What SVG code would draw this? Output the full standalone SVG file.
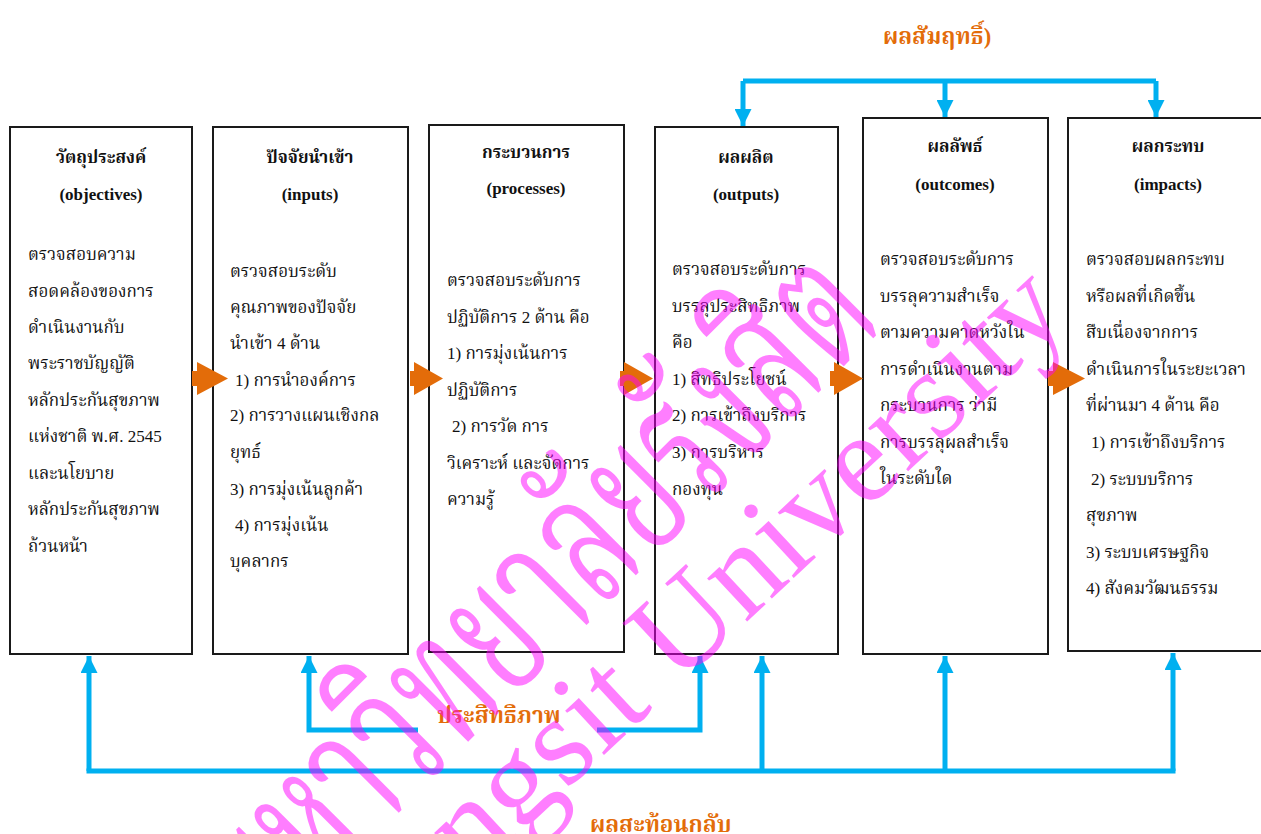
<svg xmlns="http://www.w3.org/2000/svg" width="1261" height="834" viewBox="0 0 1261 834">
<style>
.box{fill:#fff;stroke:#1a1a1a;stroke-width:2}
.t{font-family:"Liberation Serif","Noto Serif Thai","Noto Sans Thai",serif;font-size:17px;fill:#111}
.h{font-family:"Liberation Serif","Noto Serif Thai","Noto Sans Thai",serif;font-size:17px;font-weight:bold;fill:#111;text-anchor:middle}
.lbl{font-family:"Liberation Serif","Noto Serif Thai","Noto Sans Thai",serif;font-size:22.5px;font-weight:bold;fill:#E36C09}
.blue{fill:none;stroke:#00B0F0;stroke-width:5}
.orange{fill:#E36C09}
.wm{font-family:"Liberation Serif","Noto Serif Thai","Noto Sans Thai",serif;fill:#FF00FF;opacity:0.5}
</style>
<defs>
<marker id="ah" viewBox="0 0 10 10" refX="10" refY="5" markerWidth="3.4" markerHeight="3.4" orient="auto" markerUnits="strokeWidth">
<path d="M0,0 L10,5 L0,10 z" fill="#00B0F0"/>
</marker>
</defs>

<g id="node-objectives">
<rect class="box" x="10" y="127" width="182" height="527"/>
<text class="h" x="101" y="163">วัตถุประสงค์</text>
<text class="h" x="101" y="200">(objectives)</text>
<text class="t" x="28" y="260">ตรวจสอบความ</text>
<text class="t" x="28" y="297">สอดคล้องของการ</text>
<text class="t" x="28" y="333">ดำเนินงานกับ</text>
<text class="t" x="28" y="369">พระราชบัญญัติ</text>
<text class="t" x="28" y="406">หลักประกันสุขภาพ</text>
<text class="t" x="28" y="442">แห่งชาติ พ.ศ. 2545</text>
<text class="t" x="28" y="479">และนโยบาย</text>
<text class="t" x="28" y="515">หลักประกันสุขภาพ</text>
<text class="t" x="28" y="552">ถ้วนหน้า</text>
</g>

<g id="node-inputs">
<rect class="box" x="213" y="127" width="195" height="527"/>
<text class="h" x="310" y="163">ปัจจัยนำเข้า</text>
<text class="h" x="310" y="200">(inputs)</text>
<text class="t" x="230" y="277">ตรวจสอบระดับ</text>
<text class="t" x="230" y="313">คุณภาพของปัจจัย</text>
<text class="t" x="230" y="349">นำเข้า 4 ด้าน</text>
<text class="t" x="235" y="386">1) การนำองค์การ</text>
<text class="t" x="230" y="421">2) การวางแผนเชิงกล</text>
<text class="t" x="230" y="458">ยุทธ์</text>
<text class="t" x="230" y="495">3) การมุ่งเน้นลูกค้า</text>
<text class="t" x="235" y="531">4) การมุ่งเน้น</text>
<text class="t" x="230" y="567">บุคลากร</text>
</g>

<g id="node-processes">
<rect class="box" x="429" y="125" width="195" height="527"/>
<text class="h" x="526" y="158">กระบวนการ</text>
<text class="h" x="526" y="194">(processes)</text>
<text class="t" x="447" y="286">ตรวจสอบระดับการ</text>
<text class="t" x="447" y="323">ปฏิบัติการ 2 ด้าน คือ</text>
<text class="t" x="447" y="359">1) การมุ่งเน้นการ</text>
<text class="t" x="447" y="396">ปฏิบัติการ</text>
<text class="t" x="452" y="432">2) การวัด การ</text>
<text class="t" x="447" y="469">วิเคราะห์ และจัดการ</text>
<text class="t" x="447" y="505">ความรู้</text>
</g>

<g id="node-outputs">
<rect class="box" x="655" y="127" width="183" height="527"/>
<text class="h" x="746" y="163">ผลผลิต</text>
<text class="h" x="746" y="200">(outputs)</text>
<text class="t" x="672" y="275">ตรวจสอบระดับการ</text>
<text class="t" x="672" y="312">บรรลุประสิทธิภาพ</text>
<text class="t" x="672" y="348">คือ</text>
<text class="t" x="672" y="385">1) สิทธิประโยชน์</text>
<text class="t" x="672" y="421">2) การเข้าถึงบริการ</text>
<text class="t" x="672" y="458">3) การบริหาร</text>
<text class="t" x="672" y="495">กองทุน</text>
</g>

<g id="node-outcomes">
<rect class="box" x="863" y="118" width="185" height="536"/>
<text class="h" x="955" y="152">ผลลัพธ์</text>
<text class="h" x="955" y="190">(outcomes)</text>
<text class="t" x="880" y="265">ตรวจสอบระดับการ</text>
<text class="t" x="880" y="302">บรรลุความสำเร็จ</text>
<text class="t" x="880" y="338">ตามความคาดหวังใน</text>
<text class="t" x="880" y="375">การดำเนินงานตาม</text>
<text class="t" x="880" y="411">กระบวนการ ว่ามี</text>
<text class="t" x="880" y="448">การบรรลุผลสำเร็จ</text>
<text class="t" x="880" y="484">ในระดับใด</text>
</g>

<g id="node-impacts">
<rect class="box" x="1068" y="118" width="196" height="533"/>
<text class="h" x="1168" y="152">ผลกระทบ</text>
<text class="h" x="1168" y="190">(impacts)</text>
<text class="t" x="1086" y="265">ตรวจสอบผลกระทบ</text>
<text class="t" x="1086" y="302">หรือผลที่เกิดขึ้น</text>
<text class="t" x="1086" y="338">สืบเนื่องจากการ</text>
<text class="t" x="1086" y="375">ดำเนินการในระยะเวลา</text>
<text class="t" x="1086" y="411">ที่ผ่านมา 4 ด้าน คือ</text>
<text class="t" x="1091" y="448">1) การเข้าถึงบริการ</text>
<text class="t" x="1091" y="485">2) ระบบบริการ</text>
<text class="t" x="1086" y="521">สุขภาพ</text>
<text class="t" x="1086" y="558">3) ระบบเศรษฐกิจ</text>
<text class="t" x="1086" y="594">4) สังคมวัฒนธรรม</text>
</g>

<g id="connectors">
<g id="flow-arrows" class="orange">
<polygon points="192,371 197,371 197,362 228,378.5 197,395 197,386 192,386"/>
<polygon points="410,371 414,371 414,362 443,378.5 414,395 414,386 410,386"/>
<polygon points="620,371 624,371 624,362 653,378.5 624,395 624,386 620,386"/>
<polygon points="830,371 834,371 834,362 863,378.5 834,395 834,386 830,386"/>
<polygon points="1048,371 1053,371 1053,362 1085,378.5 1053,395 1053,386 1048,386"/>
</g>
<g id="achievement">
<polyline class="blue" points="743,81 1156,81"/>
<line class="blue" x1="743" y1="81" x2="743" y2="126" marker-end="url(#ah)"/>
<line class="blue" x1="945" y1="81" x2="945" y2="117" marker-end="url(#ah)"/>
<line class="blue" x1="1156" y1="81" x2="1156" y2="117" marker-end="url(#ah)"/>
</g>
<g id="efficiency">
<polyline class="blue" points="418,730 309,730 309,656" marker-end="url(#ah)"/>
<polyline class="blue" points="597,730 700,730 700,656" marker-end="url(#ah)"/>
</g>
<g id="feedback">
<line class="blue" x1="86.5" y1="771" x2="1175.5" y2="771"/>
<line class="blue" x1="89" y1="771" x2="89" y2="656" marker-end="url(#ah)"/>
<line class="blue" x1="762" y1="771" x2="762" y2="656" marker-end="url(#ah)"/>
<line class="blue" x1="945" y1="771" x2="945" y2="656" marker-end="url(#ah)"/>
<line class="blue" x1="1173" y1="771" x2="1173" y2="653" marker-end="url(#ah)"/>
</g>
</g>

<text class="lbl" x="883" y="44">ผลสัมฤทธิ์)</text>
<text class="lbl" x="437" y="723">ประสิทธิภาพ</text>
<text class="lbl" x="590" y="832">ผลสะท้อนกลับ</text>

<g id="watermark">
<text class="wm" font-size="185" textLength="880" lengthAdjust="spacingAndGlyphs" transform="translate(265,945) rotate(-45)">มหาวิทยาลัยรังสิต</text>
<text class="wm" font-size="128" transform="translate(368,975) rotate(-43)">Rangsit University</text>
</g>
</svg>
